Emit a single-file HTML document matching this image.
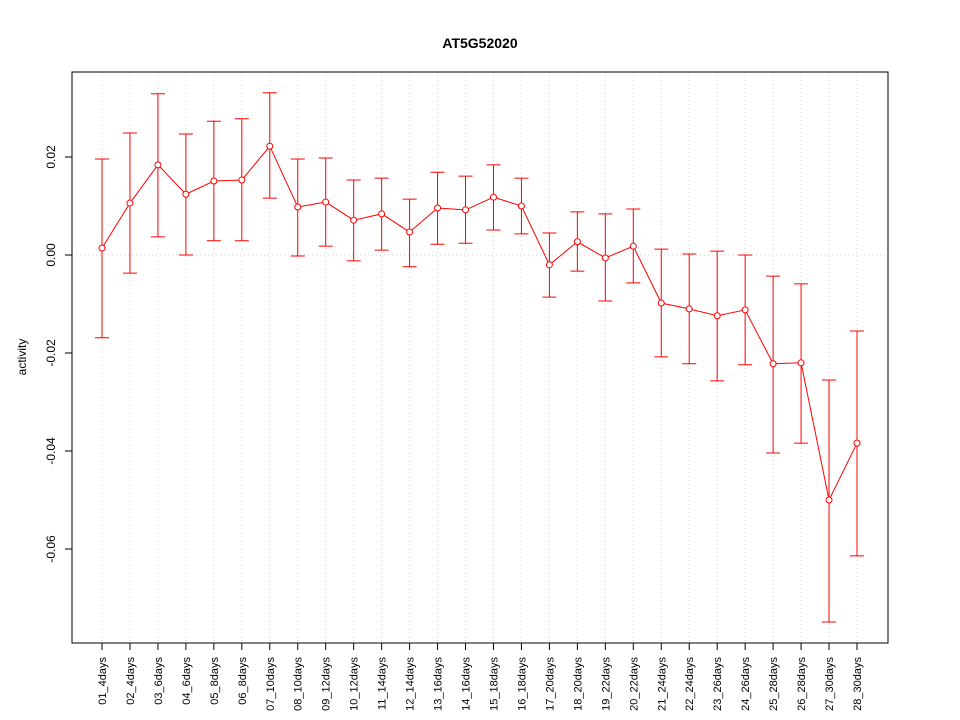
<!DOCTYPE html>
<html><head><meta charset="utf-8"><style>body{margin:0;background:#fff}svg{display:block;font-family:"Liberation Sans",sans-serif}</style></head>
<body>
<svg id="chart" width="960" height="720" xmlns="http://www.w3.org/2000/svg">
<text x="480" y="48" text-anchor="middle" font-size="14" font-weight="bold">AT5G52020</text>
<text transform="translate(26,357) rotate(-90)" text-anchor="middle" font-size="12">activity</text>
<g id="grid"></g><g id="yaxis"></g><g id="xaxis"></g><g id="series"></g>
<rect x="72" y="72" width="816" height="571" fill="none" stroke="#000"/>
</svg>
<script>
const categories=["01_4days","02_4days","03_6days","04_6days","05_8days","06_8days","07_10days","08_10days","09_12days","10_12days","11_14days","12_14days","13_16days","14_16days","15_18days","16_18days","17_20days","18_20days","19_22days","20_22days","21_24days","22_24days","23_26days","24_26days","25_28days","26_28days","27_30days","28_30days"];
const means=[0.0014,0.0106,0.0184,0.0124,0.0151,0.0153,0.0222,0.0098,0.0108,0.0071,0.0084,0.0047,0.0096,0.0092,0.0118,0.01,-0.002,0.0027,-0.0006,0.0018,-0.0098,-0.011,-0.0124,-0.0112,-0.0222,-0.022,-0.05,-0.0384];
const uppers=[0.0196,0.0249,0.0329,0.0247,0.0273,0.0278,0.0331,0.0196,0.0198,0.0153,0.0157,0.0114,0.0169,0.0161,0.0184,0.0157,0.0045,0.0088,0.0084,0.0094,0.0012,0.0002,0.0008,0,-0.0043,-0.0059,-0.0255,-0.0155];
const lowers=[-0.0169,-0.0037,0.0037,0,0.0029,0.0029,0.0116,-0.0002,0.0018,-0.0012,0.001,-0.0024,0.0022,0.0024,0.0051,0.0043,-0.0086,-0.0033,-0.0094,-0.0057,-0.0208,-0.0222,-0.0257,-0.0224,-0.0404,-0.0384,-0.0749,-0.0614];
const yTicks=[0.02,0,-0.02,-0.04,-0.06];
const yTickLabels=["0.02","0.00","-0.02","-0.04","-0.06"];
const NS="http://www.w3.org/2000/svg";
const xs=i=>102+i*(857-102)/(categories.length-1);
const ys=v=>255-v*4900;
function mk(tag,attrs,parent){const e=document.createElementNS(NS,tag);for(const k in attrs)e.setAttribute(k,attrs[k]);document.getElementById(parent).appendChild(e);return e;}
categories.forEach((c,i)=>{
 const g=mk("line",{x1:xs(i),x2:xs(i),y1:72,y2:643,stroke:"#d3d3d3","stroke-dasharray":"1,3"},"grid");
 
 
 const t=mk("line",{x1:xs(i),x2:xs(i),y1:643,y2:650,stroke:"#000"},"xaxis");
 
 
 const l=mk("text",{transform:`translate(${xs(i)+4},657) rotate(-90)`,"text-anchor":"end","font-size":"11"},"xaxis");
 l.textContent=c;
 
 
});
const h=mk("line",{x1:72,x2:888,y1:ys(0),y2:ys(0),stroke:"#d3d3d3","stroke-dasharray":"1,3"},"grid");


yTicks.forEach((v,i)=>{
 const t=mk("line",{x1:65,x2:72,y1:ys(v),y2:ys(v),stroke:"#000"},"yaxis");
 
 
 const l=mk("text",{transform:`translate(55,${ys(v)}) rotate(-90)`,"text-anchor":"middle","font-size":"12"},"yaxis");
 l.textContent=yTickLabels[i];
 
 
});
const p=mk("polyline",{points:means.map((v,i)=>xs(i)+","+ys(v)).join(" "),fill:"none",stroke:"#ff0000"},"series");


means.forEach((v,i)=>{
 const x=xs(i);
 const e=mk("path",{d:`M${x},${ys(uppers[i])}V${ys(lowers[i])}M${x-7},${ys(uppers[i])}H${x+7}M${x-7},${ys(lowers[i])}H${x+7}`,stroke:"#ff0000",fill:"none"},"series");
 
 
 const c=mk("circle",{cx:x,cy:ys(v),r:3,fill:"#fff",stroke:"#ff0000"},"series");
 
 
});
</script>
</body></html>
